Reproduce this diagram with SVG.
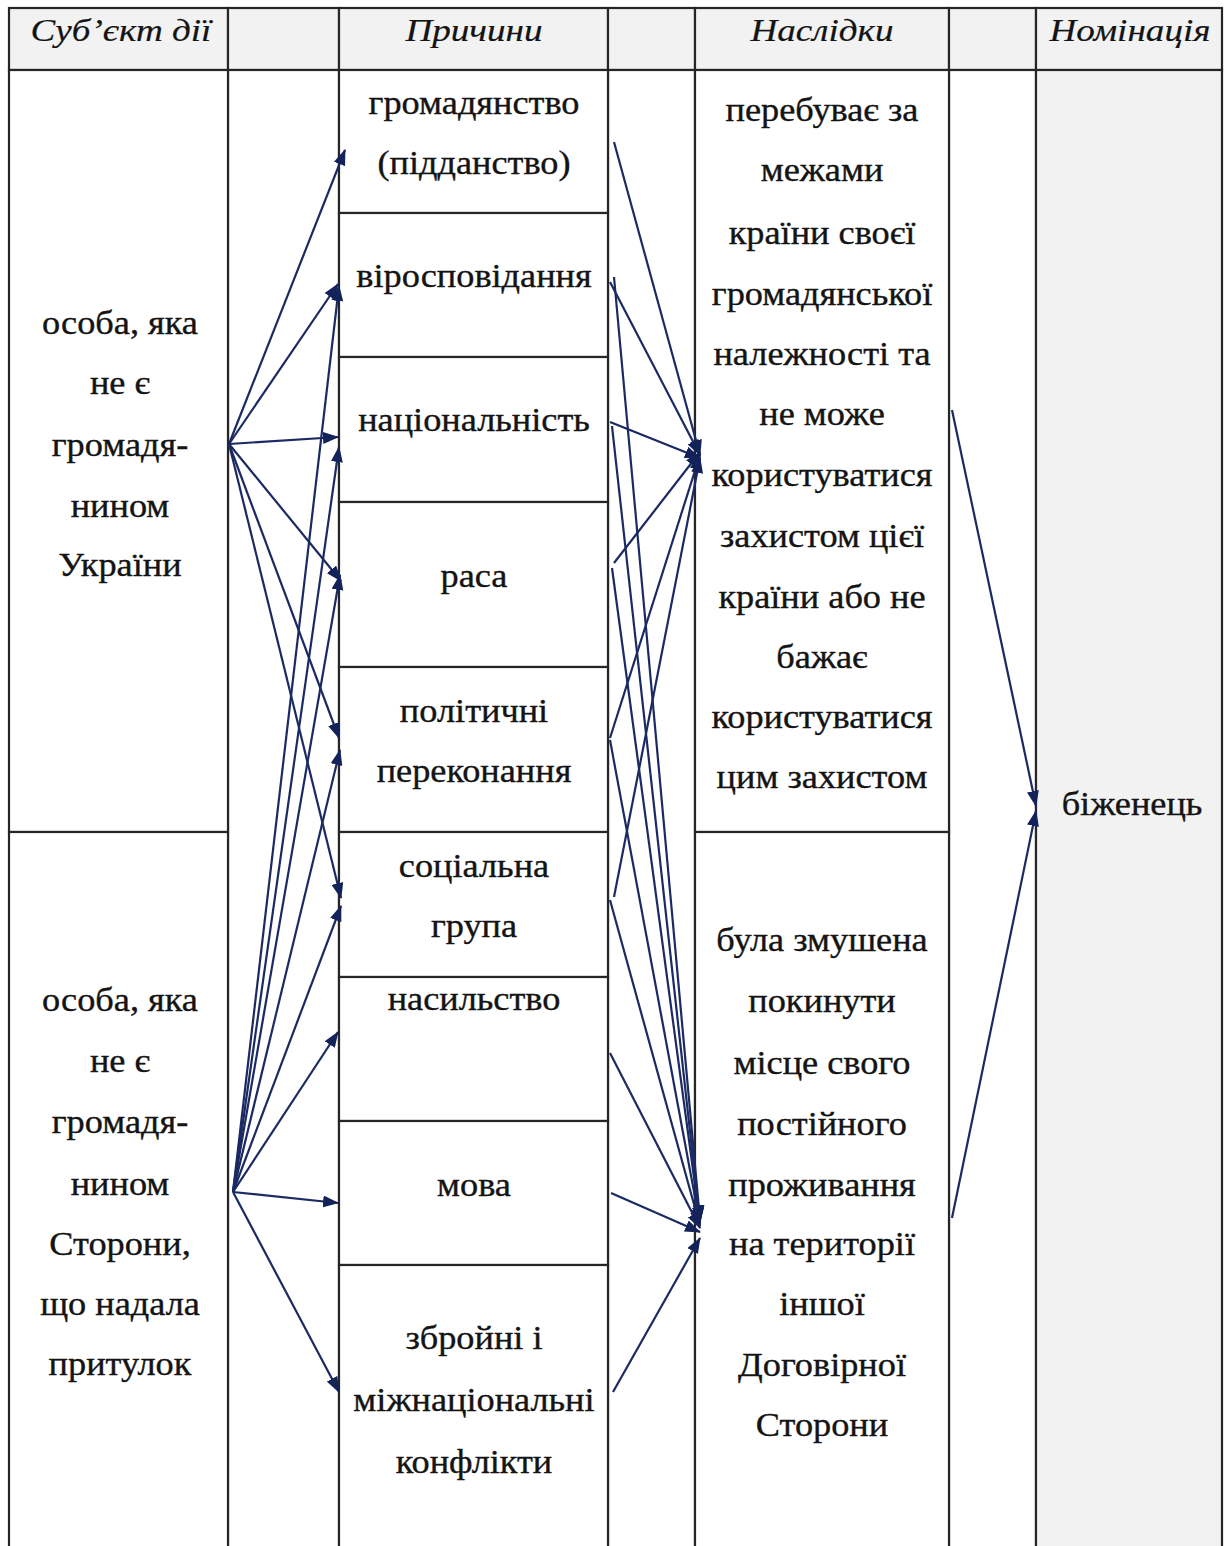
<svg xmlns="http://www.w3.org/2000/svg" width="1227" height="1546" viewBox="0 0 1227 1546">
<style>
.cell{fill:#ffffff;stroke:#262626;stroke-width:2.2}
.hdr{fill:#f2f2f2;stroke:#262626;stroke-width:2.2}
.gray{fill:#f2f2f2;stroke:#262626;stroke-width:2.2}
.t{font-family:"Liberation Serif","Times New Roman",serif;font-size:33px;text-anchor:middle;fill:#141414;stroke:#141414;stroke-width:0.35}
.h{font-family:"Liberation Serif","Times New Roman",serif;font-size:32px;font-style:italic;text-anchor:middle;fill:#141414;stroke:#141414;stroke-width:0.2}
.c line{stroke:#1b2a63;stroke-width:2.2;marker-end:url(#ah)}
</style>
<defs>
<marker id="ah" markerUnits="userSpaceOnUse" markerWidth="16" markerHeight="12" refX="15" refY="6" orient="auto">
<path d="M0,0 L16,6 L0,12 z" fill="#14225a"/>
</marker>
</defs>
<rect x="0" y="0" width="1227" height="1546" fill="#ffffff"/>
<g id="header">
<g id="h-subject"><rect class="hdr" x="9" y="8" width="219" height="62"/><text class="h" transform="translate(121,41) scale(1.16,1)">Суб’єкт дії</text></g>
<g id="h-blank1"><rect class="hdr" x="228" y="8" width="111" height="62"/></g>
<g id="h-causes"><rect class="hdr" x="339" y="8" width="269" height="62"/><text class="h" transform="translate(474,41) scale(1.16,1)">Причини</text></g>
<g id="h-blank2"><rect class="hdr" x="608" y="8" width="87" height="62"/></g>
<g id="h-effects"><rect class="hdr" x="695" y="8" width="254" height="62"/><text class="h" transform="translate(822,41) scale(1.16,1)">Наслідки</text></g>
<g id="h-blank3"><rect class="hdr" x="949" y="8" width="87" height="62"/></g>
<g id="h-nomination"><rect class="hdr" x="1036" y="8" width="186" height="62"/><text class="h" transform="translate(1130,41) scale(1.16,1)">Номінація</text></g>
</g>
<g id="blank-columns">
<rect class="cell" x="228" y="70" width="111" height="1500"/>
<rect class="cell" x="608" y="70" width="87" height="1500"/>
<rect class="cell" x="949" y="70" width="87" height="1500"/>
</g>
<g id="subject-1"><rect class="cell" x="9" y="70" width="219" height="762"/>
<g transform="translate(120,0) scale(1.1,1)"><text class="t" x="0" y="334">особа, яка</text><text class="t" x="0" y="394">не є</text><text class="t" x="0" y="456">громадя-</text><text class="t" x="0" y="517">нином</text><text class="t" x="0" y="576">України</text></g></g>
<g id="subject-2"><rect class="cell" x="9" y="832" width="219" height="740"/>
<g transform="translate(120,0) scale(1.1,1)"><text class="t" x="0" y="1011">особа, яка</text><text class="t" x="0" y="1072">не є</text><text class="t" x="0" y="1133">громадя-</text><text class="t" x="0" y="1195">нином</text><text class="t" x="0" y="1255">Сторони,</text><text class="t" x="0" y="1315">що надала</text><text class="t" x="0" y="1375">притулок</text></g></g>
<g id="cause-citizenship"><rect class="cell" x="339" y="70" width="269" height="143"/><g transform="translate(474,0) scale(1.1,1)"><text class="t" x="0" y="114">громадянство</text><text class="t" x="0" y="174">(підданство)</text></g></g>
<g id="cause-religion"><rect class="cell" x="339" y="213" width="269" height="144"/><g transform="translate(474,0) scale(1.1,1)"><text class="t" x="0" y="287">віросповідання</text></g></g>
<g id="cause-nationality"><rect class="cell" x="339" y="357" width="269" height="145"/><g transform="translate(474,0) scale(1.1,1)"><text class="t" x="0" y="431">національність</text></g></g>
<g id="cause-race"><rect class="cell" x="339" y="502" width="269" height="165"/><g transform="translate(474,0) scale(1.1,1)"><text class="t" x="0" y="587">раса</text></g></g>
<g id="cause-political"><rect class="cell" x="339" y="667" width="269" height="165"/><g transform="translate(474,0) scale(1.1,1)"><text class="t" x="0" y="722">політичні</text><text class="t" x="0" y="782">переконання</text></g></g>
<g id="cause-social"><rect class="cell" x="339" y="832" width="269" height="145"/><g transform="translate(474,0) scale(1.1,1)"><text class="t" x="0" y="877">соціальна</text><text class="t" x="0" y="937">група</text></g></g>
<g id="cause-violence"><rect class="cell" x="339" y="977" width="269" height="144"/><g transform="translate(474,0) scale(1.1,1)"><text class="t" x="0" y="1010">насильство</text></g></g>
<g id="cause-language"><rect class="cell" x="339" y="1121" width="269" height="144"/><g transform="translate(474,0) scale(1.1,1)"><text class="t" x="0" y="1196">мова</text></g></g>
<g id="cause-conflicts"><rect class="cell" x="339" y="1265" width="269" height="305"/><g transform="translate(474,0) scale(1.1,1)"><text class="t" x="0" y="1349">збройні і</text><text class="t" x="0" y="1411">міжнаціональні</text><text class="t" x="0" y="1473">конфлікти</text></g></g>
<g id="effect-1"><rect class="cell" x="695" y="70" width="254" height="762"/>
<g transform="translate(822,0) scale(1.1,1)"><text class="t" x="0" y="121">перебуває за</text><text class="t" x="0" y="181">межами</text><text class="t" x="0" y="244">країни своєї</text><text class="t" x="0" y="305">громадянської</text><text class="t" x="0" y="365">належності та</text><text class="t" x="0" y="425">не може</text><text class="t" x="0" y="486">користуватися</text><text class="t" x="0" y="547">захистом цієї</text><text class="t" x="0" y="608">країни або не</text><text class="t" x="0" y="668">бажає</text><text class="t" x="0" y="728">користуватися</text><text class="t" x="0" y="788">цим захистом</text></g></g>
<g id="effect-2"><rect class="cell" x="695" y="832" width="254" height="740"/>
<g transform="translate(822,0) scale(1.1,1)"><text class="t" x="0" y="951">була змушена</text><text class="t" x="0" y="1012">покинути</text><text class="t" x="0" y="1074">місце свого</text><text class="t" x="0" y="1135">постійного</text><text class="t" x="0" y="1196">проживання</text><text class="t" x="0" y="1255">на території</text><text class="t" x="0" y="1315">іншої</text><text class="t" x="0" y="1376">Договірної</text><text class="t" x="0" y="1436">Сторони</text></g></g>
<g id="nomination"><rect class="gray" x="1036" y="70" width="186" height="1500"/><g transform="translate(1132,0) scale(1.1,1)"><text class="t" x="0" y="815">біженець</text></g></g>
<g id="connectors" class="c">
<line x1="229" y1="444" x2="345" y2="150"/>
<line x1="229" y1="444" x2="338" y2="284"/>
<line x1="229" y1="444" x2="338" y2="437"/>
<line x1="229" y1="444" x2="341" y2="581"/>
<line x1="229" y1="444" x2="339" y2="738"/>
<line x1="229" y1="444" x2="341" y2="898"/>
<line x1="233" y1="1192" x2="339" y2="286"/>
<line x1="233" y1="1192" x2="339" y2="447"/>
<line x1="233" y1="1192" x2="340" y2="575"/>
<line x1="233" y1="1192" x2="340" y2="750"/>
<line x1="233" y1="1192" x2="341" y2="906"/>
<line x1="233" y1="1192" x2="338" y2="1032"/>
<line x1="233" y1="1192" x2="338" y2="1203"/>
<line x1="233" y1="1192" x2="339" y2="1392"/>
<line x1="614" y1="142" x2="700" y2="455"/>
<line x1="610" y1="282" x2="700" y2="455"/>
<line x1="610" y1="422" x2="700" y2="458"/>
<line x1="614" y1="563" x2="700" y2="452"/>
<line x1="610" y1="738" x2="700" y2="455"/>
<line x1="614" y1="897" x2="700" y2="458"/>
<line x1="614" y1="277" x2="700" y2="1220"/>
<line x1="612" y1="426" x2="700" y2="1222"/>
<line x1="612" y1="568" x2="700" y2="1222"/>
<line x1="610" y1="740" x2="700" y2="1224"/>
<line x1="610" y1="900" x2="700" y2="1226"/>
<line x1="610" y1="1053" x2="700" y2="1228"/>
<line x1="611" y1="1193" x2="700" y2="1232"/>
<line x1="613" y1="1392" x2="700" y2="1238"/>
<line x1="952" y1="410" x2="1036" y2="806"/>
<line x1="952" y1="1218" x2="1036" y2="811"/>
</g>
</svg>
